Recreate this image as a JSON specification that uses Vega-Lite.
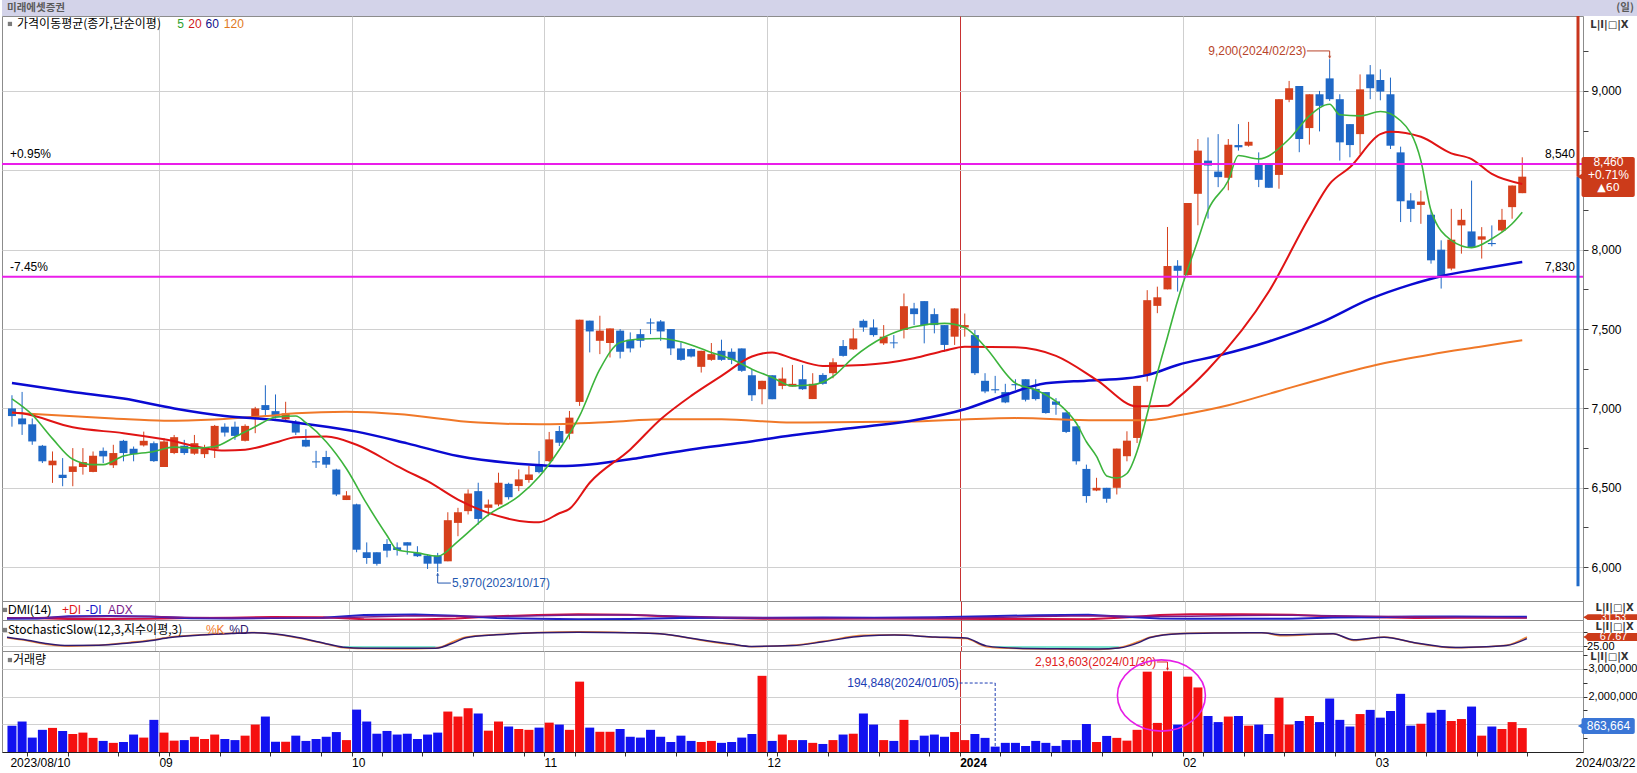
{
"$schema":"https://vega.github.io/schema/vega-lite/v6.json",
"padding":0,
"background":"white",
"spacing":0,
"bounds":"flush",
"config":{"view":{"stroke":"#8c8c8c","strokeWidth":1}},
"resolve":{"scale":{"x":"independent","y":"independent"}},
"datasets":{
"bars":[
{"d":"2023-08-10","i":0,"o":7000,"h":7083,"l":6885,"c":6952,"v":950000},
{"d":"2023-08-11","i":1,"o":6937,"h":7104,"l":6833,"c":6900,"v":1100000},
{"d":"2023-08-14","i":2,"o":6900,"h":6937,"l":6771,"c":6792,"v":520000},
{"d":"2023-08-16","i":3,"o":6765,"h":6770,"l":6656,"c":6667,"v":800000},
{"d":"2023-08-17","i":4,"o":6642,"h":6729,"l":6531,"c":6671,"v":870000},
{"d":"2023-08-18","i":5,"o":6583,"h":6687,"l":6510,"c":6562,"v":760000},
{"d":"2023-08-21","i":6,"o":6600,"h":6750,"l":6510,"c":6635,"v":650000},
{"d":"2023-08-22","i":7,"o":6631,"h":6750,"l":6583,"c":6662,"v":700000},
{"d":"2023-08-23","i":8,"o":6600,"h":6729,"l":6598,"c":6702,"v":510000},
{"d":"2023-08-24","i":9,"o":6733,"h":6754,"l":6656,"c":6698,"v":400000},
{"d":"2023-08-25","i":10,"o":6642,"h":6771,"l":6625,"c":6719,"v":330000},
{"d":"2023-08-28","i":11,"o":6796,"h":6802,"l":6667,"c":6719,"v":360000},
{"d":"2023-08-29","i":12,"o":6746,"h":6760,"l":6667,"c":6712,"v":630000},
{"d":"2023-08-30","i":13,"o":6767,"h":6854,"l":6760,"c":6796,"v":520000},
{"d":"2023-08-31","i":14,"o":6781,"h":6792,"l":6663,"c":6668,"v":1160000},
{"d":"2023-09-01","i":15,"o":6631,"h":6813,"l":6631,"c":6792,"v":700000},
{"d":"2023-09-04","i":16,"o":6719,"h":6833,"l":6712,"c":6819,"v":410000},
{"d":"2023-09-05","i":17,"o":6765,"h":6802,"l":6708,"c":6719,"v":430000},
{"d":"2023-09-06","i":18,"o":6715,"h":6833,"l":6708,"c":6781,"v":550000},
{"d":"2023-09-07","i":19,"o":6712,"h":6771,"l":6688,"c":6746,"v":470000},
{"d":"2023-09-08","i":20,"o":6746,"h":6896,"l":6688,"c":6890,"v":630000},
{"d":"2023-09-11","i":21,"o":6885,"h":6906,"l":6823,"c":6848,"v":470000},
{"d":"2023-09-12","i":22,"o":6885,"h":6917,"l":6802,"c":6827,"v":430000},
{"d":"2023-09-13","i":23,"o":6796,"h":6900,"l":6792,"c":6890,"v":590000},
{"d":"2023-09-14","i":24,"o":6937,"h":7010,"l":6844,"c":7000,"v":990000},
{"d":"2023-09-15","i":25,"o":7021,"h":7146,"l":6958,"c":6990,"v":1280000},
{"d":"2023-09-18","i":26,"o":6983,"h":7088,"l":6937,"c":6948,"v":370000},
{"d":"2023-09-19","i":27,"o":6931,"h":7042,"l":6927,"c":6969,"v":370000},
{"d":"2023-09-20","i":28,"o":6917,"h":6927,"l":6833,"c":6848,"v":590000},
{"d":"2023-09-21","i":29,"o":6802,"h":6869,"l":6756,"c":6760,"v":400000},
{"d":"2023-09-22","i":30,"o":6667,"h":6733,"l":6625,"c":6660,"v":470000},
{"d":"2023-09-25","i":31,"o":6694,"h":6733,"l":6625,"c":6646,"v":550000},
{"d":"2023-09-26","i":32,"o":6615,"h":6620,"l":6448,"c":6458,"v":720000},
{"d":"2023-09-27","i":33,"o":6423,"h":6479,"l":6423,"c":6452,"v":430000},
{"d":"2023-10-04","i":34,"o":6396,"h":6400,"l":6094,"c":6110,"v":1530000},
{"d":"2023-10-05","i":35,"o":6094,"h":6156,"l":6021,"c":6058,"v":1100000},
{"d":"2023-10-06","i":36,"o":6094,"h":6094,"l":6010,"c":6021,"v":660000},
{"d":"2023-10-10","i":37,"o":6146,"h":6177,"l":6062,"c":6104,"v":760000},
{"d":"2023-10-11","i":38,"o":6125,"h":6156,"l":6073,"c":6108,"v":630000},
{"d":"2023-10-12","i":39,"o":6157,"h":6157,"l":6079,"c":6136,"v":660000},
{"d":"2023-10-13","i":40,"o":6090,"h":6132,"l":6064,"c":6069,"v":470000},
{"d":"2023-10-16","i":41,"o":6073,"h":6079,"l":5989,"c":6022,"v":630000},
{"d":"2023-10-17","i":42,"o":6073,"h":6090,"l":5970,"c":6022,"v":700000},
{"d":"2023-10-18","i":43,"o":6037,"h":6346,"l":6037,"c":6296,"v":1460000},
{"d":"2023-10-19","i":44,"o":6279,"h":6374,"l":6195,"c":6346,"v":1280000},
{"d":"2023-10-20","i":45,"o":6353,"h":6490,"l":6332,"c":6464,"v":1580000},
{"d":"2023-10-23","i":46,"o":6479,"h":6532,"l":6268,"c":6304,"v":1390000},
{"d":"2023-10-24","i":47,"o":6374,"h":6426,"l":6321,"c":6395,"v":770000},
{"d":"2023-10-25","i":48,"o":6395,"h":6595,"l":6384,"c":6532,"v":1100000},
{"d":"2023-10-26","i":49,"o":6525,"h":6532,"l":6426,"c":6441,"v":920000},
{"d":"2023-10-27","i":50,"o":6511,"h":6616,"l":6479,"c":6553,"v":830000},
{"d":"2023-10-30","i":51,"o":6549,"h":6637,"l":6532,"c":6584,"v":800000},
{"d":"2023-10-31","i":52,"o":6647,"h":6732,"l":6591,"c":6599,"v":880000},
{"d":"2023-11-01","i":53,"o":6668,"h":6852,"l":6662,"c":6805,"v":1060000},
{"d":"2023-11-02","i":54,"o":6858,"h":6889,"l":6763,"c":6784,"v":990000},
{"d":"2023-11-03","i":55,"o":6841,"h":6984,"l":6805,"c":6942,"v":800000},
{"d":"2023-11-06","i":56,"o":7041,"h":7559,"l":7016,"c":7559,"v":2540000},
{"d":"2023-11-07","i":57,"o":7553,"h":7553,"l":7353,"c":7485,"v":880000},
{"d":"2023-11-08","i":58,"o":7426,"h":7584,"l":7342,"c":7490,"v":730000},
{"d":"2023-11-09","i":59,"o":7412,"h":7504,"l":7321,"c":7504,"v":730000},
{"d":"2023-11-10","i":60,"o":7490,"h":7500,"l":7315,"c":7357,"v":830000},
{"d":"2023-11-13","i":61,"o":7433,"h":7479,"l":7353,"c":7378,"v":550000},
{"d":"2023-11-14","i":62,"o":7468,"h":7500,"l":7384,"c":7426,"v":520000},
{"d":"2023-11-15","i":63,"o":7542,"h":7567,"l":7468,"c":7535,"v":800000},
{"d":"2023-11-16","i":64,"o":7548,"h":7557,"l":7426,"c":7485,"v":550000},
{"d":"2023-11-17","i":65,"o":7500,"h":7500,"l":7336,"c":7378,"v":360000},
{"d":"2023-11-20","i":66,"o":7378,"h":7416,"l":7300,"c":7306,"v":590000},
{"d":"2023-11-21","i":67,"o":7374,"h":7378,"l":7321,"c":7327,"v":400000},
{"d":"2023-11-22","i":68,"o":7262,"h":7363,"l":7226,"c":7363,"v":360000},
{"d":"2023-11-23","i":69,"o":7306,"h":7412,"l":7300,"c":7342,"v":400000},
{"d":"2023-11-24","i":70,"o":7363,"h":7433,"l":7300,"c":7306,"v":330000},
{"d":"2023-11-27","i":71,"o":7357,"h":7378,"l":7279,"c":7306,"v":360000},
{"d":"2023-11-28","i":72,"o":7378,"h":7378,"l":7230,"c":7237,"v":520000},
{"d":"2023-11-29","i":73,"o":7209,"h":7247,"l":7047,"c":7083,"v":650000},
{"d":"2023-11-30","i":74,"o":7121,"h":7174,"l":7026,"c":7174,"v":2750000},
{"d":"2023-12-01","i":75,"o":7209,"h":7209,"l":7058,"c":7058,"v":400000},
{"d":"2023-12-04","i":76,"o":7142,"h":7258,"l":7121,"c":7188,"v":630000},
{"d":"2023-12-05","i":77,"o":7138,"h":7274,"l":7138,"c":7155,"v":430000},
{"d":"2023-12-06","i":78,"o":7184,"h":7274,"l":7117,"c":7121,"v":430000},
{"d":"2023-12-07","i":79,"o":7059,"h":7222,"l":7059,"c":7155,"v":330000},
{"d":"2023-12-08","i":80,"o":7211,"h":7222,"l":7149,"c":7155,"v":290000},
{"d":"2023-12-11","i":81,"o":7222,"h":7316,"l":7190,"c":7291,"v":430000},
{"d":"2023-12-12","i":82,"o":7393,"h":7431,"l":7326,"c":7331,"v":630000},
{"d":"2023-12-13","i":83,"o":7372,"h":7504,"l":7368,"c":7441,"v":660000},
{"d":"2023-12-14","i":84,"o":7552,"h":7561,"l":7483,"c":7510,"v":1390000},
{"d":"2023-12-15","i":85,"o":7510,"h":7561,"l":7452,"c":7462,"v":990000},
{"d":"2023-12-18","i":86,"o":7410,"h":7525,"l":7400,"c":7452,"v":430000},
{"d":"2023-12-19","i":87,"o":7416,"h":7462,"l":7379,"c":7410,"v":400000},
{"d":"2023-12-20","i":88,"o":7494,"h":7724,"l":7441,"c":7644,"v":1160000},
{"d":"2023-12-21","i":89,"o":7630,"h":7665,"l":7525,"c":7594,"v":430000},
{"d":"2023-12-22","i":90,"o":7676,"h":7676,"l":7410,"c":7525,"v":590000},
{"d":"2023-12-26","i":91,"o":7594,"h":7630,"l":7473,"c":7525,"v":630000},
{"d":"2023-12-27","i":92,"o":7525,"h":7525,"l":7358,"c":7400,"v":550000},
{"d":"2023-12-28","i":93,"o":7452,"h":7630,"l":7400,"c":7630,"v":720000},
{"d":"2024-01-02","i":94,"o":7510,"h":7598,"l":7452,"c":7525,"v":430000},
{"d":"2024-01-03","i":95,"o":7462,"h":7494,"l":7211,"c":7222,"v":650000},
{"d":"2024-01-04","i":96,"o":7174,"h":7222,"l":7096,"c":7107,"v":510000},
{"d":"2024-01-05","i":97,"o":7121,"h":7205,"l":7096,"c":7114,"v":194848},
{"d":"2024-01-08","i":98,"o":7103,"h":7155,"l":7033,"c":7038,"v":330000},
{"d":"2024-01-09","i":99,"o":7153,"h":7184,"l":7117,"c":7146,"v":330000},
{"d":"2024-01-10","i":100,"o":7184,"h":7184,"l":7044,"c":7054,"v":220000},
{"d":"2024-01-11","i":101,"o":7123,"h":7184,"l":7050,"c":7059,"v":400000},
{"d":"2024-01-12","i":102,"o":7103,"h":7103,"l":6967,"c":6971,"v":330000},
{"d":"2024-01-15","i":103,"o":7044,"h":7065,"l":6960,"c":7023,"v":220000},
{"d":"2024-01-16","i":104,"o":6975,"h":6975,"l":6845,"c":6852,"v":430000},
{"d":"2024-01-17","i":105,"o":6887,"h":6887,"l":6646,"c":6667,"v":430000},
{"d":"2024-01-18","i":106,"o":6619,"h":6646,"l":6406,"c":6448,"v":1010000},
{"d":"2024-01-19","i":107,"o":6483,"h":6563,"l":6479,"c":6500,"v":360000},
{"d":"2024-01-22","i":108,"o":6500,"h":6500,"l":6406,"c":6431,"v":580000},
{"d":"2024-01-23","i":109,"o":6500,"h":6747,"l":6458,"c":6747,"v":510000},
{"d":"2024-01-24","i":110,"o":6699,"h":6856,"l":6667,"c":6797,"v":410000},
{"d":"2024-01-25","i":111,"o":6814,"h":7142,"l":6782,"c":7142,"v":800000},
{"d":"2024-01-26","i":112,"o":7211,"h":7745,"l":7169,"c":7682,"v":2900000},
{"d":"2024-01-29","i":113,"o":7646,"h":7767,"l":7600,"c":7700,"v":1050000},
{"d":"2024-01-30","i":114,"o":7750,"h":8143,"l":7750,"c":7897,"v":2913603},
{"d":"2024-01-31","i":115,"o":7899,"h":7934,"l":7736,"c":7867,"v":990000},
{"d":"2024-02-01","i":116,"o":7840,"h":8294,"l":7836,"c":8294,"v":2720000},
{"d":"2024-02-02","i":117,"o":8352,"h":8697,"l":8154,"c":8624,"v":2330000},
{"d":"2024-02-05","i":118,"o":8561,"h":8707,"l":8196,"c":8530,"v":1300000},
{"d":"2024-02-06","i":119,"o":8492,"h":8728,"l":8394,"c":8457,"v":1080000},
{"d":"2024-02-07","i":120,"o":8453,"h":8697,"l":8374,"c":8661,"v":1280000},
{"d":"2024-02-08","i":121,"o":8659,"h":8791,"l":8624,"c":8645,"v":1300000},
{"d":"2024-02-13","i":122,"o":8655,"h":8805,"l":8649,"c":8680,"v":950000},
{"d":"2024-02-14","i":123,"o":8540,"h":8613,"l":8394,"c":8440,"v":990000},
{"d":"2024-02-15","i":124,"o":8540,"h":8540,"l":8390,"c":8390,"v":650000},
{"d":"2024-02-16","i":125,"o":8471,"h":8948,"l":8384,"c":8948,"v":1960000},
{"d":"2024-02-19","i":126,"o":8944,"h":9063,"l":8929,"c":9017,"v":990000},
{"d":"2024-02-20","i":127,"o":9031,"h":9031,"l":8614,"c":8697,"v":1120000},
{"d":"2024-02-21","i":128,"o":8766,"h":8979,"l":8662,"c":8979,"v":1300000},
{"d":"2024-02-22","i":129,"o":8979,"h":9000,"l":8745,"c":8906,"v":1080000},
{"d":"2024-02-23","i":130,"o":9079,"h":9200,"l":8937,"c":8948,"v":1930000},
{"d":"2024-02-26","i":131,"o":8948,"h":8979,"l":8561,"c":8676,"v":1160000},
{"d":"2024-02-27","i":132,"o":8791,"h":8791,"l":8582,"c":8659,"v":920000},
{"d":"2024-02-28","i":133,"o":8728,"h":9104,"l":8603,"c":9010,"v":1370000},
{"d":"2024-02-29","i":134,"o":9104,"h":9163,"l":8948,"c":9017,"v":1520000},
{"d":"2024-03-04","i":135,"o":9069,"h":9136,"l":8941,"c":8996,"v":1240000},
{"d":"2024-03-05","i":136,"o":8979,"h":9084,"l":8634,"c":8655,"v":1480000},
{"d":"2024-03-06","i":137,"o":8613,"h":8649,"l":8174,"c":8305,"v":2100000},
{"d":"2024-03-07","i":138,"o":8310,"h":8356,"l":8174,"c":8257,"v":950000},
{"d":"2024-03-08","i":139,"o":8282,"h":8372,"l":8163,"c":8303,"v":1020000},
{"d":"2024-03-11","i":140,"o":8220,"h":8247,"l":7912,"c":7933,"v":1420000},
{"d":"2024-03-12","i":141,"o":8000,"h":8059,"l":7755,"c":7828,"v":1520000},
{"d":"2024-03-13","i":142,"o":7881,"h":8257,"l":7870,"c":8063,"v":1120000},
{"d":"2024-03-14","i":143,"o":8153,"h":8257,"l":7975,"c":8188,"v":1190000},
{"d":"2024-03-15","i":144,"o":8115,"h":8435,"l":8017,"c":8017,"v":1640000},
{"d":"2024-03-18","i":145,"o":8063,"h":8142,"l":7944,"c":8084,"v":590000},
{"d":"2024-03-19","i":146,"o":8042,"h":8153,"l":8021,"c":8035,"v":920000},
{"d":"2024-03-20","i":147,"o":8121,"h":8257,"l":8111,"c":8188,"v":830000},
{"d":"2024-03-21","i":148,"o":8268,"h":8404,"l":8195,"c":8404,"v":1080000},
{"d":"2024-03-22","i":149,"o":8356,"h":8582,"l":8356,"c":8460,"v":863664}
],
"ma5":[{"i":0,"p":7060},{"i":2,"p":6960},{"i":4,"p":6810},{"i":6,"p":6680},{"i":8,"p":6646},{"i":9,"p":6646},{"i":11,"p":6700},{"i":14,"p":6729},{"i":16,"p":6756},{"i":18,"p":6750},{"i":20,"p":6760},{"i":22,"p":6820},{"i":24,"p":6885},{"i":26,"p":6944},{"i":28,"p":6952},{"i":29,"p":6910},{"i":31,"p":6790},{"i":33,"p":6620},{"i":35,"p":6400},{"i":37,"p":6200},{"i":38,"p":6110},{"i":40,"p":6090},{"i":42,"p":6069},{"i":44,"p":6163},{"i":47,"p":6330},{"i":50,"p":6447},{"i":52,"p":6570},{"i":54,"p":6740},{"i":56,"p":6953},{"i":58,"p":7247},{"i":60,"p":7416},{"i":62,"p":7437},{"i":64,"p":7441},{"i":66,"p":7420},{"i":69,"p":7353},{"i":71,"p":7311},{"i":73,"p":7247},{"i":75,"p":7195},{"i":77,"p":7142},{"i":79,"p":7149},{"i":81,"p":7201},{"i":83,"p":7320},{"i":86,"p":7448},{"i":89,"p":7515},{"i":92,"p":7536},{"i":94,"p":7510},{"i":96,"p":7389},{"i":99,"p":7159},{"i":101,"p":7117},{"i":103,"p":7044},{"i":105,"p":6908},{"i":106,"p":6790},{"i":107,"p":6698},{"i":108,"p":6575},{"i":109,"p":6562},{"i":110,"p":6590},{"i":111,"p":6730},{"i":112,"p":6965},{"i":113,"p":7222},{"i":114,"p":7450},{"i":115,"p":7680},{"i":117,"p":8060},{"i":118,"p":8248},{"i":120,"p":8436},{"i":121,"p":8593},{"i":123,"p":8572},{"i":126,"p":8697},{"i":128,"p":8843},{"i":130,"p":8916},{"i":131,"p":8850},{"i":133,"p":8843},{"i":135,"p":8870},{"i":137,"p":8812},{"i":139,"p":8561},{"i":140,"p":8247},{"i":142,"p":8059},{"i":144,"p":8013},{"i":146,"p":8069},{"i":148,"p":8163},{"i":149,"p":8236}],
"ma20":[{"i":0,"p":6975},{"i":1,"p":6969},{"i":6,"p":6881},{"i":11,"p":6844},{"i":15,"p":6806},{"i":21,"p":6735},{"i":23,"p":6740},{"i":26,"p":6785},{"i":28,"p":6819},{"i":31,"p":6823},{"i":34,"p":6771},{"i":38,"p":6637},{"i":39,"p":6604},{"i":41,"p":6542},{"i":44,"p":6426},{"i":47,"p":6342},{"i":51,"p":6285},{"i":52,"p":6283},{"i":54,"p":6340},{"i":55,"p":6367},{"i":57,"p":6532},{"i":61,"p":6742},{"i":64,"p":6932},{"i":67,"p":7079},{"i":70,"p":7205},{"i":73,"p":7327},{"i":75,"p":7353},{"i":77,"p":7315},{"i":80,"p":7268},{"i":84,"p":7274},{"i":89,"p":7316},{"i":92,"p":7364},{"i":94,"p":7389},{"i":99,"p":7385},{"i":103,"p":7331},{"i":107,"p":7180},{"i":111,"p":7013},{"i":114,"p":7017},{"i":115,"p":7065},{"i":118,"p":7245},{"i":124,"p":7736},{"i":128,"p":8206},{"i":130,"p":8415},{"i":132,"p":8519},{"i":135,"p":8728},{"i":136,"p":8743},{"i":139,"p":8711},{"i":142,"p":8607},{"i":144,"p":8571},{"i":146,"p":8477},{"i":149,"p":8414}],
"ma60":[{"i":0,"p":7160},{"i":6,"p":7104},{"i":11,"p":7062},{"i":16,"p":7000},{"i":21,"p":6952},{"i":26,"p":6927},{"i":29,"p":6902},{"i":34,"p":6854},{"i":39,"p":6780},{"i":44,"p":6700},{"i":51,"p":6647},{"i":54,"p":6637},{"i":57,"p":6647},{"i":62,"p":6690},{"i":67,"p":6742},{"i":72,"p":6784},{"i":77,"p":6831},{"i":82,"p":6870},{"i":89,"p":6925},{"i":94,"p":6995},{"i":98,"p":7085},{"i":102,"p":7158},{"i":106,"p":7175},{"i":110,"p":7190},{"i":112,"p":7210},{"i":115,"p":7274},{"i":119,"p":7333},{"i":124,"p":7422},{"i":129,"p":7537},{"i":134,"p":7690},{"i":138,"p":7780},{"i":141,"p":7833},{"i":145,"p":7880},{"i":149,"p":7923}],
"ma120":[{"i":0,"p":6973},{"i":10,"p":6937},{"i":15,"p":6923},{"i":20,"p":6931},{"i":25,"p":6952},{"i":28,"p":6969},{"i":33,"p":6979},{"i":38,"p":6965},{"i":46,"p":6911},{"i":52,"p":6900},{"i":59,"p":6915},{"i":64,"p":6932},{"i":70,"p":6932},{"i":77,"p":6911},{"i":89,"p":6918},{"i":99,"p":6939},{"i":107,"p":6925},{"i":112,"p":6925},{"i":115,"p":6955},{"i":120,"p":7020},{"i":125,"p":7110},{"i":130,"p":7200},{"i":135,"p":7280},{"i":140,"p":7340},{"i":145,"p":7390},{"i":149,"p":7430}],
"dmi":[{"i":0,"p":10,"m":6,"a":12},{"i":3,"p":9,"m":8,"a":12},{"i":6,"p":5,"m":20,"a":16},{"i":10,"p":5,"m":21,"a":18},{"i":14,"p":6,"m":19,"a":18},{"i":18,"p":10,"m":9,"a":13},{"i":22,"p":12,"m":8,"a":11},{"i":26,"p":16,"m":10,"a":12},{"i":31,"p":14,"m":12,"a":11},{"i":35,"p":4,"m":26,"a":16},{"i":40,"p":2,"m":29,"a":22},{"i":44,"p":8,"m":22,"a":20},{"i":48,"p":20,"m":10,"a":18},{"i":52,"p":26,"m":6,"a":22},{"i":56,"p":30,"m":4,"a":26},{"i":61,"p":27,"m":5,"a":27},{"i":66,"p":16,"m":10,"a":20},{"i":70,"p":10,"m":12,"a":15},{"i":75,"p":6,"m":12,"a":11},{"i":80,"p":7,"m":13,"a":9},{"i":85,"p":8,"m":12,"a":8},{"i":91,"p":6,"m":14,"a":9},{"i":96,"p":5,"m":20,"a":13},{"i":101,"p":5,"m":25,"a":18},{"i":106,"p":4,"m":28,"a":22},{"i":110,"p":14,"m":16,"a":20},{"i":113,"p":26,"m":8,"a":19},{"i":116,"p":30,"m":6,"a":20},{"i":121,"p":30,"m":6,"a":24},{"i":126,"p":28,"m":7,"a":25},{"i":130,"p":18,"m":13,"a":23},{"i":134,"p":15,"m":15,"a":20},{"i":138,"p":11,"m":19,"a":17},{"i":142,"p":12,"m":18,"a":15},{"i":146,"p":12,"m":17,"a":13},{"i":149,"p":12,"m":17,"a":12}],
"stoch":[{"i":0,"k":55,"d":57},{"i":2,"k":44,"d":46},{"i":4,"k":30,"d":33},{"i":6,"k":24,"d":26},{"i":9,"k":27,"d":27},{"i":12,"k":38,"d":36},{"i":14,"k":46,"d":44},{"i":16,"k":58,"d":56},{"i":19,"k":66,"d":65},{"i":22,"k":72,"d":71},{"i":24,"k":75,"d":74},{"i":26,"k":70,"d":70},{"i":28,"k":58,"d":60},{"i":31,"k":35,"d":36},{"i":33,"k":18,"d":20},{"i":35,"k":15,"d":16},{"i":38,"k":14,"d":16},{"i":42,"k":16,"d":16},{"i":44,"k":45,"d":40},{"i":45,"k":58,"d":55},{"i":48,"k":67,"d":66},{"i":52,"k":75,"d":74},{"i":56,"k":77,"d":76},{"i":61,"k":74,"d":74},{"i":64,"k":70,"d":70},{"i":68,"k":46,"d":48},{"i":71,"k":30,"d":32},{"i":73,"k":22,"d":23},{"i":77,"k":27,"d":26},{"i":80,"k":42,"d":40},{"i":84,"k":64,"d":62},{"i":87,"k":66,"d":65},{"i":91,"k":57,"d":58},{"i":94,"k":52,"d":54},{"i":96,"k":22,"d":25},{"i":99,"k":15,"d":16},{"i":103,"k":13,"d":14},{"i":107,"k":12,"d":13},{"i":109,"k":18,"d":17},{"i":111,"k":42,"d":38},{"i":112,"k":57,"d":55},{"i":115,"k":71,"d":70},{"i":119,"k":74,"d":73},{"i":123,"k":74,"d":74},{"i":125,"k":63,"d":66},{"i":130,"k":70,"d":70},{"i":132,"k":45,"d":48},{"i":135,"k":58,"d":57},{"i":138,"k":36,"d":37},{"i":142,"k":18,"d":19},{"i":145,"k":22,"d":22},{"i":147,"k":27,"d":26},{"i":149,"k":58,"d":52}]
},
"vconcat":[
{
"width":1637,"height":16,
"view":{"fill":"#d3d3e9","stroke":null},
"data":{"values":[{}]},
"layer":[
{"mark":{"type":"text","align":"left","baseline":"middle","font":"Noto Sans CJK KR","fontSize":10.5,"fontWeight":"bold","color":"#5a5a5a"},
 "encoding":{"x":{"datum":0,"type":"quantitative","scale":{"domain":[-0.49,160],"nice":false,"zero":false},"axis":null},"text":{"value":"미래에셋증권"}}},
{"mark":{"type":"text","align":"right","baseline":"middle","font":"Noto Sans CJK KR","fontSize":10.5,"fontWeight":"bold","color":"#5a5a5a"},
 "encoding":{"x":{"datum":159.5,"type":"quantitative","axis":null},"text":{"value":"(일)"}}}
]
},
{
"width":1581,"height":585,
"data":{"values":[{}]},
"layer":[
{"data":{"name":"bars"},"mark":{"type":"rule","strokeWidth":1},
 "encoding":{
  "x":{"field":"i","type":"quantitative","title":null,"scale":{"domain":[-0.49,154.5],"nice":false,"zero":false},
       "axis":{"values":[14.5,33.5,52.5,74.5,93.5,115.5,134.5],"labels":false,"ticks":false,"domain":false,"grid":true,"gridColor":{"condition":{"test":"datum.value == 93.5","value":"#c83232"},"value":"#cfcfcf"},"title":null}},
  "y":{"field":"l","type":"quantitative","title":null,"scale":{"domain":[5787,9472],"nice":false,"zero":false},
       "axis":{"orient":"right","values":[6000,6250,6500,6750,7000,7250,7500,7750,8000,8250,8500,8750,9000,9250],"labelExpr":"datum.value % 500 == 0 && datum.value != 8500 ? format(datum.value, ',') : ''","labelOverlap":false,"labelFont":"Liberation Sans","labelFontSize":12,"labelColor":"#000","labelPadding":3,"tickSize":5,"tickColor":"#444","domain":false,"grid":true,"gridColor":{"condition":{"test":"datum.value % 500 == 0","value":"#d0d0d0"},"value":"rgba(0,0,0,0)"},"title":null}},
  "y2":{"field":"h"},
  "color":{"condition":{"test":"datum.c >= datum.o","value":"#d6401c"},"value":"#1f68c6"}}},
{"data":{"name":"bars"},"mark":{"type":"bar","width":8},
 "encoding":{"x":{"field":"i","type":"quantitative","title":null},"y":{"field":"o","type":"quantitative","title":null},"y2":{"field":"c"},
  "color":{"condition":{"test":"datum.c >= datum.o","value":"#d6401c"},"value":"#1f68c6"}}},
{"data":{"name":"ma120"},"mark":{"type":"line","color":"#f07828","strokeWidth":2,"interpolate":"monotone"},
 "encoding":{"x":{"field":"i","type":"quantitative","title":null},"y":{"field":"p","type":"quantitative","title":null}}},
{"data":{"name":"ma60"},"mark":{"type":"line","color":"#0a0ad2","strokeWidth":2.5,"interpolate":"monotone"},
 "encoding":{"x":{"field":"i","type":"quantitative","title":null},"y":{"field":"p","type":"quantitative","title":null}}},
{"data":{"name":"ma20"},"mark":{"type":"line","color":"#e01414","strokeWidth":2,"interpolate":"monotone"},
 "encoding":{"x":{"field":"i","type":"quantitative","title":null},"y":{"field":"p","type":"quantitative","title":null}}},
{"data":{"name":"ma5"},"mark":{"type":"line","color":"#3cb43c","strokeWidth":1.6,"interpolate":"monotone"},
 "encoding":{"x":{"field":"i","type":"quantitative","title":null},"y":{"field":"p","type":"quantitative","title":null}}},
{"mark":{"type":"rule","color":"#ea1eea","strokeWidth":2},"encoding":{"y":{"datum":8540}}},
{"mark":{"type":"rule","color":"#ea1eea","strokeWidth":2},"encoding":{"y":{"datum":7830}}},
{"mark":{"type":"rule","color":"#c8361e","strokeWidth":3},"encoding":{"x":{"datum":154.5},"y":{"datum":8460},"y2":{"datum":9472}}},
{"mark":{"type":"rule","color":"#1f6ac8","strokeWidth":3},"encoding":{"x":{"datum":154.5},"y":{"datum":5880},"y2":{"datum":8460}}},
{"mark":{"type":"point","shape":"square","filled":true,"color":"#444","size":18},"encoding":{"x":{"datum":-0.2},"y":{"datum":9422}}},
{"mark":{"type":"text","align":"left","baseline":"middle","font":"Noto Sans CJK KR","fontSize":12,"color":"#000"},"encoding":{"x":{"datum":0.5},"y":{"datum":9422},"text":{"value":"가격이동평균(종가,단순이평)"}}},
{"mark":{"type":"text","align":"left","baseline":"middle","font":"Liberation Sans","fontSize":12,"color":"#2ca02c"},"encoding":{"x":{"datum":16.3},"y":{"datum":9422},"text":{"value":"5"}}},
{"mark":{"type":"text","align":"left","baseline":"middle","font":"Liberation Sans","fontSize":12,"color":"#d01818"},"encoding":{"x":{"datum":17.4},"y":{"datum":9422},"text":{"value":"20"}}},
{"mark":{"type":"text","align":"left","baseline":"middle","font":"Liberation Sans","fontSize":12,"color":"#10108c"},"encoding":{"x":{"datum":19.1},"y":{"datum":9422},"text":{"value":"60"}}},
{"mark":{"type":"text","align":"left","baseline":"middle","font":"Liberation Sans","fontSize":12,"color":"#e07820"},"encoding":{"x":{"datum":20.9},"y":{"datum":9422},"text":{"value":"120"}}},
{"mark":{"type":"text","align":"left","baseline":"bottom","dy":-3,"font":"Liberation Sans","fontSize":12,"color":"#000"},"encoding":{"x":{"datum":-0.2},"y":{"datum":8540},"text":{"value":"+0.95%"}}},
{"mark":{"type":"text","align":"left","baseline":"bottom","dy":-3,"font":"Liberation Sans","fontSize":12,"color":"#000"},"encoding":{"x":{"datum":-0.2},"y":{"datum":7830},"text":{"value":"-7.45%"}}},
{"mark":{"type":"text","align":"right","baseline":"bottom","dy":-3,"font":"Liberation Sans","fontSize":12,"color":"#000"},"encoding":{"x":{"datum":154.2},"y":{"datum":8540},"text":{"value":"8,540"}}},
{"mark":{"type":"text","align":"right","baseline":"bottom","dy":-3,"font":"Liberation Sans","fontSize":12,"color":"#000"},"encoding":{"x":{"datum":154.2},"y":{"datum":7830},"text":{"value":"7,830"}}},
{"mark":{"type":"text","align":"right","baseline":"middle","font":"Liberation Sans","fontSize":12,"color":"#b8442a"},"encoding":{"x":{"datum":127.7},"y":{"datum":9252},"text":{"value":"9,200(2024/02/23)"}}},
{"mark":{"type":"rule","color":"#b8442a","strokeWidth":1},"encoding":{"x":{"datum":127.75},"x2":{"datum":130},"y":{"datum":9252}}},
{"mark":{"type":"rule","color":"#b8442a","strokeWidth":1},"encoding":{"x":{"datum":130},"y":{"datum":9252},"y2":{"datum":9205}}},
{"mark":{"type":"point","shape":"triangle-down","filled":true,"color":"#b8442a","size":12},"encoding":{"x":{"datum":130},"y":{"datum":9212}}},
{"mark":{"type":"text","align":"left","baseline":"middle","font":"Liberation Sans","fontSize":12,"color":"#2458b0"},"encoding":{"x":{"datum":43.4},"y":{"datum":5900},"text":{"value":"5,970(2023/10/17)"}}},
{"mark":{"type":"rule","color":"#2458b0","strokeWidth":1},"encoding":{"x":{"datum":42},"y":{"datum":5962},"y2":{"datum":5900}}},
{"mark":{"type":"rule","color":"#2458b0","strokeWidth":1},"encoding":{"x":{"datum":42},"x2":{"datum":43.3},"y":{"datum":5900}}},
{"mark":{"type":"point","shape":"triangle-up","filled":true,"color":"#2458b0","size":12},"encoding":{"x":{"datum":42},"y":{"datum":5956}}},
{"mark":{"type":"rect","color":"#cc3b1a","cornerRadius":2},"encoding":{"x":{"datum":154.85},"x2":{"datum":160.1},"y":{"datum":8332},"y2":{"datum":8584}}},
{"mark":{"type":"point","shape":"triangle-left","filled":true,"color":"#cc3b1a","size":70,"opacity":1},"encoding":{"x":{"datum":154.75},"y":{"datum":8460}}},
{"mark":{"type":"text","align":"center","baseline":"middle","font":"Liberation Sans","fontSize":12,"color":"#fff"},"encoding":{"x":{"datum":157.5},"y":{"datum":8553},"text":{"value":"8,460"}}},
{"mark":{"type":"text","align":"center","baseline":"middle","font":"Liberation Sans","fontSize":12,"color":"#fff"},"encoding":{"x":{"datum":157.5},"y":{"datum":8468},"text":{"value":"+0.71%"}}},
{"mark":{"type":"text","align":"center","baseline":"middle","font":"DejaVu Sans","fontSize":11,"color":"#fff"},"encoding":{"x":{"datum":157.5},"y":{"datum":8390},"text":{"value":"▲60"}}},
{"mark":{"type":"text","align":"center","baseline":"middle","font":"DejaVu Sans","fontSize":10,"fontWeight":"bold","color":"#333"},"encoding":{"x":{"datum":157.6},"y":{"datum":9418},"text":{"value":"L|I|□|X"}}}
]
},
{
"width":1581,"height":19,
"data":{"values":[{}]},
"layer":[
{"data":{"name":"dmi"},"mark":{"type":"line","color":"#d01040","strokeWidth":2},
 "encoding":{"x":{"field":"i","type":"quantitative","title":null,"scale":{"domain":[-0.49,154.5],"nice":false,"zero":false},
   "axis":{"values":[14.5,33.5,52.5,74.5,93.5,115.5,134.5],"labels":false,"ticks":false,"domain":false,"grid":true,"gridColor":{"condition":{"test":"datum.value == 93.5","value":"#c83232"},"value":"#cfcfcf"},"title":null}},
  "y":{"field":"p","type":"quantitative","title":null,"scale":{"domain":[0,100],"nice":false,"zero":false},"axis":null}}},
{"data":{"name":"dmi"},"mark":{"type":"line","color":"#2020c8","strokeWidth":2},
 "encoding":{"x":{"field":"i","type":"quantitative","title":null},"y":{"field":"m","type":"quantitative","title":null}}},
{"data":{"name":"dmi"},"mark":{"type":"line","color":"#7a1a8a","strokeWidth":1.5},
 "encoding":{"x":{"field":"i","type":"quantitative","title":null},"y":{"field":"a","type":"quantitative","title":null}}},
{"mark":{"type":"point","shape":"square","filled":true,"color":"#444","size":18},"encoding":{"x":{"datum":-0.2},"y":{"datum":53}}},
{"mark":{"type":"text","align":"left","baseline":"middle","font":"Liberation Sans","fontSize":12,"color":"#000"},"encoding":{"x":{"datum":0.1},"y":{"datum":53},"text":{"value":"DMI(14)"}}},
{"mark":{"type":"text","align":"left","baseline":"middle","font":"Liberation Sans","fontSize":12,"color":"#e01818"},"encoding":{"x":{"datum":5.4},"y":{"datum":53},"text":{"value":"+DI"}}},
{"mark":{"type":"text","align":"left","baseline":"middle","font":"Liberation Sans","fontSize":12,"color":"#1818c8"},"encoding":{"x":{"datum":7.7},"y":{"datum":53},"text":{"value":"-DI"}}},
{"mark":{"type":"text","align":"left","baseline":"middle","font":"Liberation Sans","fontSize":12,"color":"#7a1a8a"},"encoding":{"x":{"datum":9.9},"y":{"datum":53},"text":{"value":"ADX"}}},
{"mark":{"type":"rect","color":"#cc3b1a","cornerRadius":2},"encoding":{"x":{"datum":154.85},"x2":{"datum":160.1},"y":{"datum":0},"y2":{"datum":30}}},
{"mark":{"type":"point","shape":"triangle-left","filled":true,"color":"#cc3b1a","size":30,"opacity":1},"encoding":{"x":{"datum":154.75},"y":{"datum":15}}},
{"mark":{"type":"text","align":"center","baseline":"middle","font":"Liberation Sans","fontSize":10,"color":"#fff"},"encoding":{"x":{"datum":157.5},"y":{"datum":12},"text":{"value":"31.53"}}},
{"mark":{"type":"text","align":"center","baseline":"middle","font":"DejaVu Sans","fontSize":10,"fontWeight":"bold","color":"#333"},"encoding":{"x":{"datum":157.6},"y":{"datum":62},"text":{"value":"L|I|□|X"}}}
]
},
{
"width":1581,"height":31,
"data":{"values":[{}]},
"layer":[
{"data":{"name":"stoch"},"transform":[{"filter":"datum.i >= 33 && datum.i <= 42"}],"mark":{"type":"area","color":"#7fe3cf","interpolate":"monotone"},
 "encoding":{"x":{"field":"i","type":"quantitative","title":null,"scale":{"domain":[-0.49,154.5],"nice":false,"zero":false},
   "axis":{"values":[14.5,33.5,52.5,74.5,93.5,115.5,134.5],"labels":false,"ticks":false,"domain":false,"grid":true,"gridColor":{"condition":{"test":"datum.value == 93.5","value":"#c83232"},"value":"#cfcfcf"},"title":null}},
  "y":{"field":"d","type":"quantitative","title":null,"scale":{"domain":[6,121],"nice":false,"zero":false},
   "axis":{"orient":"right","values":[25,75],"labels":false,"tickSize":4,"tickColor":"#333","domain":false,"grid":true,"gridColor":"#d8d8d8","title":null}},
  "y2":{"datum":25}}},
{"data":{"name":"stoch"},"transform":[{"filter":"datum.i >= 96 && datum.i <= 109"}],"mark":{"type":"area","color":"#7fe3cf","interpolate":"monotone"},
 "encoding":{"x":{"field":"i","type":"quantitative","title":null},"y":{"field":"d","type":"quantitative","title":null},"y2":{"datum":25}}},
{"data":{"name":"stoch"},"mark":{"type":"line","color":"#f08a3c","strokeWidth":1.5,"interpolate":"monotone"},
 "encoding":{"x":{"field":"i","type":"quantitative","title":null},"y":{"field":"k","type":"quantitative","title":null}}},
{"data":{"name":"stoch"},"mark":{"type":"line","color":"#301a70","strokeWidth":1.5,"interpolate":"monotone"},
 "encoding":{"x":{"field":"i","type":"quantitative","title":null},"y":{"field":"d","type":"quantitative","title":null}}},
{"mark":{"type":"point","shape":"square","filled":true,"color":"#444","size":18},"encoding":{"x":{"datum":-0.2},"y":{"datum":84}}},
{"mark":{"type":"text","align":"left","baseline":"middle","font":"Noto Sans CJK KR","fontSize":12,"color":"#000"},"encoding":{"x":{"datum":0.1},"y":{"datum":84},"text":{"value":"StochasticSlow(12,3,지수이평,3)"}}},
{"mark":{"type":"text","align":"left","baseline":"middle","font":"Liberation Sans","fontSize":12,"color":"#f07828"},"encoding":{"x":{"datum":19.5},"y":{"datum":84},"text":{"value":"%K"}}},
{"mark":{"type":"text","align":"left","baseline":"middle","font":"Liberation Sans","fontSize":12,"color":"#301a70"},"encoding":{"x":{"datum":21.8},"y":{"datum":84},"text":{"value":"%D"}}},
{"mark":{"type":"text","align":"left","baseline":"middle","font":"Liberation Sans","fontSize":11,"color":"#000"},"encoding":{"x":{"datum":154.9},"y":{"datum":22},"text":{"value":"25.00"}}},
{"mark":{"type":"rect","color":"#cc3b1a","cornerRadius":2},"encoding":{"x":{"datum":154.85},"x2":{"datum":160.1},"y":{"datum":43},"y2":{"datum":73}}},
{"mark":{"type":"point","shape":"triangle-left","filled":true,"color":"#cc3b1a","size":30,"opacity":1},"encoding":{"x":{"datum":154.75},"y":{"datum":58}}},
{"mark":{"type":"text","align":"center","baseline":"middle","font":"Liberation Sans","fontSize":11,"color":"#fff"},"encoding":{"x":{"datum":157.5},"y":{"datum":58},"text":{"value":"67.67"}}},
{"mark":{"type":"text","align":"center","baseline":"middle","font":"DejaVu Sans","fontSize":10,"fontWeight":"bold","color":"#333"},"encoding":{"x":{"datum":157.6},"y":{"datum":95},"text":{"value":"L|I|□|X"}}}
]
},
{
"width":1581,"height":101,
"data":{"values":[{}]},
"resolve":{"scale":{"y":"independent"},"axis":{"y":"independent"}},
"layer":[
{"data":{"name":"bars"},"mark":{"type":"bar","width":9},
 "encoding":{
  "x":{"field":"i","type":"quantitative","title":null,"scale":{"domain":[-0.49,154.5],"nice":false,"zero":false},
   "axis":{"orient":"bottom","values":[-0.2,1.5,5.5,10.5,14.5,15.5,20.5,25.5,30.5,33.5,36.5,40.5,45.5,50.5,52.5,55.5,60.5,65.5,70.5,74.5,75.5,80.5,85.5,90.5,93.5,97.5,102.5,107.5,112.5,115.5,117.5,121.5,125.5,130.5,134.5,139.5,144.5,149.5,154.2],
    "labelExpr":"datum.value == -0.2 ? '2023/08/10' : datum.value == 14.5 ? '09' : datum.value == 33.5 ? '10' : datum.value == 52.5 ? '11' : datum.value == 74.5 ? '12' : datum.value == 93.5 ? '2024' : datum.value == 115.5 ? '02' : datum.value == 134.5 ? '03' : datum.value == 154.2 ? '2024/03/22' : ''",
    "labelOverlap":false,"labelFlush":false,"labelBound":false,"labelAlign":"left","labelFont":"Liberation Sans","labelFontSize":12,"labelColor":"#000",
    "labelFontWeight":{"condition":{"test":"datum.value == 93.5","value":"bold"},"value":"normal"},
    "labelPadding":1,"tickSize":4,"tickColor":"#333",
    "tickOpacity":{"condition":{"test":"datum.value < 0 || datum.value > 154","value":0},"value":1},
    "domain":true,"domainColor":"#222",
    "grid":true,"gridColor":{"condition":{"test":"datum.value == 93.5","value":"#c83232"},"value":"#cfcfcf"},
    "gridOpacity":{"condition":{"test":"indexof([14.5,33.5,52.5,74.5,93.5,115.5,134.5], datum.value) >= 0","value":1},"value":0},
    "title":null}},
  "y":{"field":"v","type":"quantitative","title":null,"stack":null,"scale":{"domain":[0,3646000],"nice":false,"zero":true},
   "axis":{"orient":"right","values":[500000,1000000,1500000,2000000,2500000,3000000,3500000],"labelExpr":"datum.value == 2000000 || datum.value == 3000000 ? format(datum.value, ',') : ''","labelOverlap":false,"labelFont":"Liberation Sans","labelFontSize":11,"labelColor":"#000","labelPadding":1,"tickSize":4,"tickColor":"#333","domain":false,"grid":true,"gridColor":{"condition":{"test":"datum.value % 1000000 == 0","value":"#d0d0d0"},"value":"rgba(0,0,0,0)"},"title":null}},
  "color":{"condition":{"test":"datum.c >= datum.o","value":"#f51010"},"value":"#1212f0"}}},
{"mark":{"type":"point","shape":"square","filled":true,"color":"#444","size":18},"encoding":{"x":{"datum":-0.2},"y":{"datum":3320000,"scale":{"domain":[0,3646000],"nice":false,"zero":true},"axis":null}}},
{"mark":{"type":"text","align":"left","baseline":"middle","font":"Noto Sans CJK KR","fontSize":12,"color":"#000"},"encoding":{"x":{"datum":0.1},"y":{"datum":3320000,"scale":{"domain":[0,3646000],"nice":false,"zero":true},"axis":null},"text":{"value":"거래량"}}},
{"mark":{"type":"text","align":"right","baseline":"middle","font":"Liberation Sans","fontSize":12,"color":"#1c3cb4"},"encoding":{"x":{"datum":93.4},"y":{"datum":2490000,"scale":{"domain":[0,3646000],"nice":false,"zero":true},"axis":null},"text":{"value":"194,848(2024/01/05)"}}},
{"mark":{"type":"rule","color":"#1c3cb4","strokeWidth":1,"strokeDash":[3,2]},"encoding":{"x":{"datum":93.5},"x2":{"datum":97},"y":{"datum":2490000,"scale":{"domain":[0,3646000],"nice":false,"zero":true},"axis":null}}},
{"mark":{"type":"rule","color":"#1c3cb4","strokeWidth":1,"strokeDash":[3,2]},"encoding":{"x":{"datum":97},"y":{"datum":2490000,"scale":{"domain":[0,3646000],"nice":false,"zero":true},"axis":null},"y2":{"datum":200000}}},
{"mark":{"type":"text","align":"right","baseline":"middle","font":"Liberation Sans","fontSize":12,"color":"#e02020"},"encoding":{"x":{"datum":112.9},"y":{"datum":3250000,"scale":{"domain":[0,3646000],"nice":false,"zero":true},"axis":null},"text":{"value":"2,913,603(2024/01/30)"}}},
{"mark":{"type":"rule","color":"#e02020","strokeWidth":1},"encoding":{"x":{"datum":112.95},"x2":{"datum":114},"y":{"datum":3250000,"scale":{"domain":[0,3646000],"nice":false,"zero":true},"axis":null}}},
{"mark":{"type":"rule","color":"#e02020","strokeWidth":1},"encoding":{"x":{"datum":114},"y":{"datum":3250000,"scale":{"domain":[0,3646000],"nice":false,"zero":true},"axis":null},"y2":{"datum":2960000}}},
{"mark":{"type":"point","shape":"triangle-down","filled":true,"color":"#e02020","size":12},"encoding":{"x":{"datum":114},"y":{"datum":2990000,"scale":{"domain":[0,3646000],"nice":false,"zero":true},"axis":null}}},
{"mark":{"type":"point","shape":"M-1,0A1,0.81,0,1,1,1,0A1,0.81,0,1,1,-1,0Z","filled":false,"color":"#e61ee6","strokeWidth":1.6,"size":7744,"opacity":1},"encoding":{"x":{"datum":113.4},"y":{"datum":2040000,"scale":{"domain":[0,3646000],"nice":false,"zero":true},"axis":null}}},
{"mark":{"type":"rect","color":"#3a76d6","cornerRadius":2},"encoding":{"x":{"datum":154.85},"x2":{"datum":160.1},"y":{"datum":650000,"scale":{"domain":[0,3646000],"nice":false,"zero":true},"axis":null},"y2":{"datum":1230000}}},
{"mark":{"type":"point","shape":"triangle-left","filled":true,"color":"#3a76d6","size":40,"opacity":1},"encoding":{"x":{"datum":154.75},"y":{"datum":940000,"scale":{"domain":[0,3646000],"nice":false,"zero":true},"axis":null}}},
{"mark":{"type":"text","align":"center","baseline":"middle","font":"Liberation Sans","fontSize":12,"color":"#fff"},"encoding":{"x":{"datum":157.5},"y":{"datum":940000,"scale":{"domain":[0,3646000],"nice":false,"zero":true},"axis":null},"text":{"value":"863,664"}}},
{"mark":{"type":"text","align":"center","baseline":"middle","font":"DejaVu Sans","fontSize":10,"fontWeight":"bold","color":"#333"},"encoding":{"x":{"datum":157.6},"y":{"datum":3440000,"scale":{"domain":[0,3646000],"nice":false,"zero":true},"axis":null},"text":{"value":"L|I|□|X"}}}
]
}
]
}
